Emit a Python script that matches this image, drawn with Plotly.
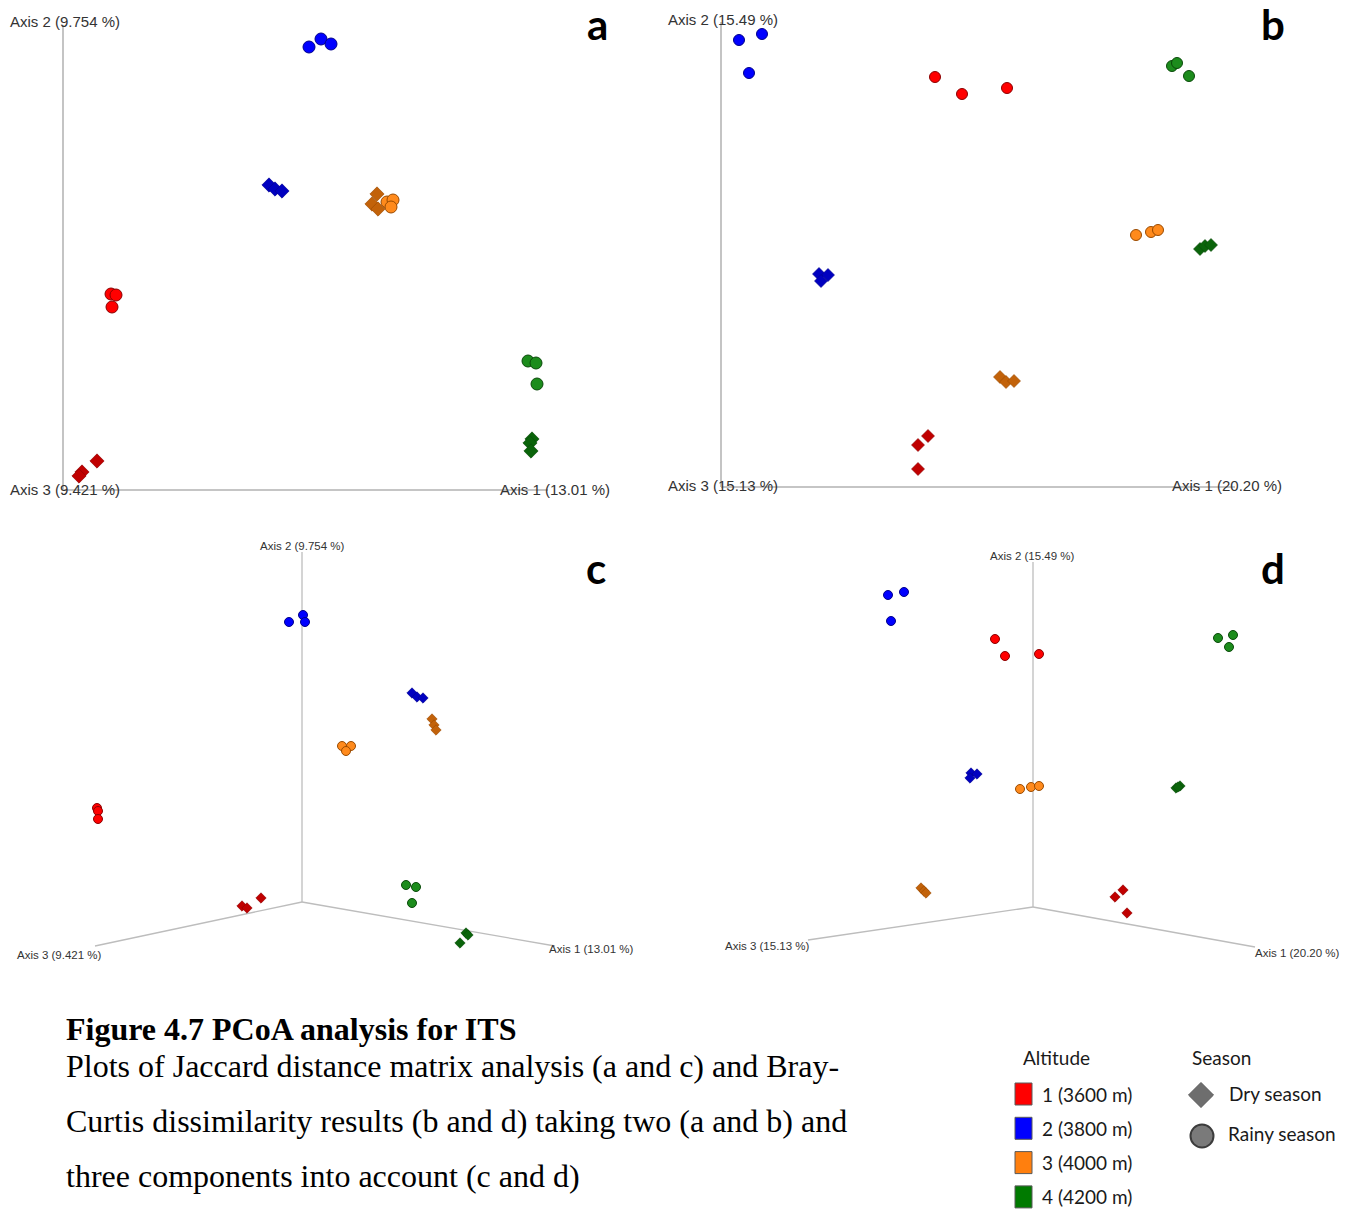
import plotly.graph_objects as go

# ---------------------------------------------------------------------------
# PCoA ordination scores (projected onto the view plane of each panel),
# three replicate samples per altitude, in order: alt 1, 1, 1, 2, 2, 2, ...
# ---------------------------------------------------------------------------
altitudes = ["1 (3600 m)", "2 (3800 m)", "3 (4000 m)", "4 (4200 m)"]
seasons = ["Dry season", "Rainy season"]
sample_altitude = [0, 0, 0, 1, 1, 1, 2, 2, 2, 3, 3, 3]

# a: Jaccard, axes 1 & 2
a_rainy_x = [0.48, 0.53, 0.49, 2.46, 2.58, 2.68, 3.24, 3.30, 3.28, 4.65, 4.73, 4.74]
a_rainy_y = [1.96, 1.95, 1.83, 4.43, 4.51, 4.46, 2.88, 2.90, 2.83, 1.29, 1.27, 1.06]
a_dry_x = [0.34, 0.19, 0.16, 2.06, 2.12, 2.19, 3.14, 3.09, 3.15, 4.69, 4.67, 4.68]
a_dry_y = [0.29, 0.18, 0.14, 3.05, 3.01, 2.99, 2.96, 2.86, 2.81, 0.51, 0.47, 0.39]

# b: Bray-Curtis, axes 1 & 2
b_rainy_x = [2.14, 2.41, 2.86, 0.18, 0.41, 0.28, 4.15, 4.30, 4.37, 4.51, 4.56, 4.68]
b_rainy_y = [4.10, 3.93, 3.99, 4.47, 4.53, 4.14, 2.52, 2.55, 2.57, 4.21, 4.24, 4.11]
b_dry_x = [2.07, 1.97, 1.97, 0.98, 1.07, 1.00, 2.79, 2.85, 2.93, 4.79, 4.84, 4.90]
b_dry_y = [0.51, 0.42, 0.18, 2.13, 2.12, 2.06, 1.10, 1.05, 1.06, 2.38, 2.41, 2.42]

# c: Jaccard, axes 1-3 (projected)
c_rainy_x = [-2.05, -2.04, -2.04, -0.13, 0.01, 0.03, 0.40, 0.49, 0.44, 1.04, 1.14, 1.10]
c_rainy_y = [0.94, 0.91, 0.83, 2.80, 2.87, 2.80, 1.56, 1.56, 1.51, 0.17, 0.15, -0.01]
c_dry_x = [-0.60, -0.55, -0.41, 1.10, 1.15, 1.21, 1.30, 1.32, 1.34, 1.64, 1.66, 1.58]
c_dry_y = [-0.04, -0.06, 0.04, 2.09, 2.05, 2.04, 1.83, 1.77, 1.72, -0.31, -0.33, -0.41]

# d: Bray-Curtis, axes 1-3 (projected)
d_rainy_x = [-0.38, -0.28, 0.06, -1.45, -1.29, -1.42, -0.13, -0.02, 0.06, 1.85, 2.00, 1.96]
d_rainy_y = [2.68, 2.51, 2.53, 3.12, 3.15, 2.86, 1.18, 1.20, 1.21, 2.69, 2.72, 2.60]
d_dry_x = [0.90, 0.82, 0.94, -0.62, -0.56, -0.63, -1.12, -1.09, -1.07, 1.43, 1.47, 1.45]
d_dry_y = [0.17, 0.10, -0.06, 1.34, 1.33, 1.29, 0.19, 0.16, 0.14, 1.19, 1.21, 1.20]

# axis titles (percent variance explained)
jaccard_axis_titles = ["Axis 1 (13.01 %)", "Axis 2 (9.754 %)", "Axis 3 (9.421 %)"]
bray_axis_titles = ["Axis 1 (20.20 %)", "Axis 2 (15.49 %)", "Axis 3 (15.13 %)"]

# colours per altitude
rainy_fill = ["#FF0000", "#0000FF", "#FF8A1C", "#1C8C1C"]
rainy_edge = ["#8B0000", "#00008B", "#9A4A00", "#0A4A0A"]
dry_fill = ["#C00000", "#0000C0", "#C2620A", "#0A640A"]
legend_fill = ["#FF0000", "#0000FF", "#FF7F0E", "#007A00"]

W, H = 1350, 1210
UNIT = 100.0  # screen pixels per score unit


def paper_x(px):
    return px / W


def paper_y(py):
    return 1 - py / H


panels = [
    dict(key="", letter="a", rect=(0, 0, 655, 520), origin=(63, 490),
         rx=a_rainy_x, ry=a_rainy_y, dx=a_dry_x, dy=a_dry_y, titles=jaccard_axis_titles,
         csize=12, dsize=11, font=15, axes3d=False,
         axis_end=dict(a1=(4.85, 0), a2=(0, 4.65)),
         lab=dict(a1=(498, 489, "left"), a2=(8, 21, "left"), a3=(8, 489, "left")),
         letter_pos=(597, 24)),
    dict(key="2", letter="b", rect=(655, 0, 1350, 520), origin=(721, 487),
         rx=b_rainy_x, ry=b_rainy_y, dx=b_dry_x, dy=b_dry_y, titles=bray_axis_titles,
         csize=11, dsize=10, font=15, axes3d=False,
         axis_end=dict(a1=(5.14, 0), a2=(0, 4.65)),
         lab=dict(a1=(1170, 486, "left"), a2=(666, 20, "left"), a3=(666, 486, "left")),
         letter_pos=(1273, 24)),
    dict(key="3", letter="c", rect=(0, 520, 655, 990), origin=(302, 902),
         rx=c_rainy_x, ry=c_rainy_y, dx=c_dry_x, dy=c_dry_y, titles=jaccard_axis_titles,
         csize=9, dsize=8, font=11.5, axes3d=True,
         axis_end=dict(a1=(2.53, -0.44), a2=(0, 3.50), a3=(-2.07, -0.44)),
         lab=dict(a1=(547, 949, "left"), a2=(302, 546, "center"), a3=(15, 955, "left")),
         letter_pos=(596, 568)),
    dict(key="4", letter="d", rect=(655, 520, 1350, 990), origin=(1033, 907),
         rx=d_rainy_x, ry=d_rainy_y, dx=d_dry_x, dy=d_dry_y, titles=bray_axis_titles,
         csize=9, dsize=8, font=11.5, axes3d=True,
         axis_end=dict(a1=(2.22, -0.40), a2=(0, 3.45), a3=(-2.25, -0.33)),
         lab=dict(a1=(1253, 953, "left"), a2=(1032, 556, "center"), a3=(723, 946, "left")),
         letter_pos=(1273, 568)),
]

fig = go.Figure()
shapes = []
annotations = []
layout_axes = {}

for p in panels:
    k = p["key"]
    x0, y0, x1, y1 = p["rect"]
    ox, oy = p["origin"]
    xa, ya = "x" + k, "y" + k
    layout_axes["xaxis" + k] = dict(
        domain=[paper_x(x0), paper_x(x1)], range=[(x0 - ox) / UNIT, (x1 - ox) / UNIT],
        visible=False, anchor=ya, fixedrange=True)
    layout_axes["yaxis" + k] = dict(
        domain=[paper_y(y1), paper_y(y0)], range=[(oy - y1) / UNIT, (oy - y0) / UNIT],
        visible=False, anchor=xa, fixedrange=True)

    # ordination axes
    if p["axes3d"]:
        col, wid = "#BDBDBD", 1.3
        ends = [p["axis_end"]["a1"], p["axis_end"]["a2"], p["axis_end"]["a3"]]
        cols = [col, col, col]
        wids = [wid, wid, wid]
    else:
        ends = [p["axis_end"]["a1"], p["axis_end"]["a2"]]
        cols = ["#8C8C8C", "#C4C4C4"]
        wids = [1.2, 2.0]
    for (ex, ey), c, w in zip(ends, cols, wids):
        shapes.append(dict(type="line", xref=xa, yref=ya, x0=0, y0=0, x1=ex, y1=ey,
                           line=dict(color=c, width=w), layer="below"))

    # samples: dry season (diamonds) then rainy season (circles)
    fig.add_trace(go.Scatter(
        x=p["dx"], y=p["dy"], xaxis=xa, yaxis=ya, mode="markers", showlegend=False,
        marker=dict(symbol="diamond", size=p["dsize"],
                    color=[dry_fill[i] for i in sample_altitude],
                    line=dict(width=0.6, color=[rainy_edge[i] for i in sample_altitude])),
        name="Dry season", hoverinfo="x+y"))
    fig.add_trace(go.Scatter(
        x=p["rx"], y=p["ry"], xaxis=xa, yaxis=ya, mode="markers", showlegend=False,
        marker=dict(symbol="circle", size=p["csize"],
                    color=[rainy_fill[i] for i in sample_altitude],
                    line=dict(width=1, color=[rainy_edge[i] for i in sample_altitude])),
        name="Rainy season", hoverinfo="x+y"))

    # axis titles
    for key, title in zip(["a1", "a2", "a3"], p["titles"]):
        lx, ly, anc = p["lab"][key]
        annotations.append(dict(
            x=paper_x(lx), y=paper_y(ly), xref="paper", yref="paper", text=title,
            showarrow=False, xanchor=anc, yanchor="middle",
            font=dict(family="Liberation Sans, Arial", size=p["font"], color="#333333")))

    # panel letter
    lx, ly = p["letter_pos"]
    annotations.append(dict(
        x=paper_x(lx), y=paper_y(ly), xref="paper", yref="paper", text="<b>%s</b>" % p["letter"],
        showarrow=False, xanchor="center", yanchor="middle",
        font=dict(family="Lato, Liberation Sans", size=42, color="#000000")))

# caption
caption_title = "Figure 4.7 PCoA analysis for ITS"
caption_lines = [
    "Plots of Jaccard distance matrix analysis (a and c) and Bray-",
    "Curtis dissimilarity results (b and d) taking two (a and b) and",
    "three components into account (c and d)",
]
caption_font = dict(family="Liberation Serif, Times New Roman", size=32, color="#000000")
annotations.append(dict(
    x=paper_x(64), y=paper_y(1029), xref="paper", yref="paper",
    text="<b>%s</b>" % caption_title, showarrow=False, xanchor="left", yanchor="middle",
    font=caption_font))
for line, ly in zip(caption_lines, [1066, 1121, 1176]):
    annotations.append(dict(
        x=paper_x(64), y=paper_y(ly), xref="paper", yref="paper", text=line,
        showarrow=False, xanchor="left", yanchor="middle", font=caption_font))

# legend: altitude colours
legend_font = dict(family="Lato, Open Sans", size=19, color="#1A1A1A")
annotations.append(dict(x=paper_x(1021), y=paper_y(1057), xref="paper", yref="paper",
                        text="Altitude", showarrow=False, xanchor="left", yanchor="middle",
                        font=legend_font))
annotations.append(dict(x=paper_x(1190), y=paper_y(1057), xref="paper", yref="paper",
                        text="Season", showarrow=False, xanchor="left", yanchor="middle",
                        font=legend_font))
for i, (label, col) in enumerate(zip(altitudes, legend_fill)):
    cy = 1094 + i * 34.3
    shapes.append(dict(type="rect", xref="paper", yref="paper",
                       x0=paper_x(1015), x1=paper_x(1032),
                       y0=paper_y(cy + 11), y1=paper_y(cy - 11),
                       fillcolor=col, line=dict(color="#5A5A5A", width=1)))
    annotations.append(dict(x=paper_x(1040), y=paper_y(cy), xref="paper", yref="paper",
                            text=label, showarrow=False, xanchor="left", yanchor="middle",
                            font=legend_font))

# legend: season symbols
dcx, dcy, dr = 1201, 1095, 12.5
shapes.append(dict(type="path", xref="paper", yref="paper",
                   path="M %f %f L %f %f L %f %f L %f %f Z" % (
                       paper_x(dcx), paper_y(dcy - dr), paper_x(dcx + dr), paper_y(dcy),
                       paper_x(dcx), paper_y(dcy + dr), paper_x(dcx - dr), paper_y(dcy)),
                   fillcolor="#6E6E6E", line=dict(color="#5A5A5A", width=1)))
ccx, ccy, cr = 1202, 1136, 11.5
shapes.append(dict(type="circle", xref="paper", yref="paper",
                   x0=paper_x(ccx - cr), x1=paper_x(ccx + cr),
                   y0=paper_y(ccy + cr), y1=paper_y(ccy - cr),
                   fillcolor="#7A7A7A", line=dict(color="#3C3C3C", width=2)))
for text, lx, ly in zip(seasons, [1227, 1226], [1093, 1133]):
    annotations.append(dict(x=paper_x(lx), y=paper_y(ly), xref="paper", yref="paper",
                            text=text, showarrow=False, xanchor="left", yanchor="middle",
                            font=legend_font))

fig.update_layout(
    width=W, height=H, margin=dict(l=0, r=0, t=0, b=0),
    paper_bgcolor="#FFFFFF", plot_bgcolor="rgba(0,0,0,0)",
    showlegend=False, shapes=shapes, annotations=annotations, **layout_axes)

fig.write_html("out.html", config=dict(displayModeBar=False))
